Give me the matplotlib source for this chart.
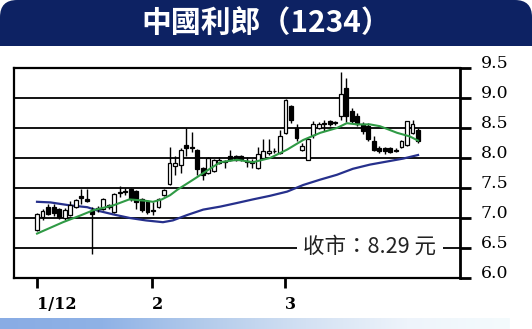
import numpy as np
import matplotlib
matplotlib.use("Agg")
import matplotlib.pyplot as plt
from matplotlib.patches import FancyBboxPatch
from matplotlib.colors import LinearSegmentedColormap

# ---------------- data ----------------
title = "中國利郎（1234）"
close_label = "收市：8.29 元"

open_ = [6.80, 7.02, 7.18, 7.18, 7.15, 7.00, 7.05, 7.19, 7.36, 7.31,
         7.11, 7.15, 7.15, 7.21, 7.10, 7.42, 7.45, 7.48, 7.45, 7.32,
         7.29, 7.13, 7.18, 7.39, 7.56, 7.86, 7.89, 8.21, 8.18, 8.13,
         7.83, 7.75, 7.78, 7.92, 7.95, 8.03, 8.03, 8.03, 7.95, 7.92,
         7.83, 8.00, 8.08, 8.12, 8.08, 8.42, 8.86, 8.50, 8.14, 7.97,
         8.39, 8.50, 8.56, 8.61, 8.58, 8.70, 9.17, 8.78, 8.70, 8.56,
         8.53, 8.28, 8.17, 8.17, 8.17, 8.14, 8.19, 8.22, 8.42, 8.47]
close = [7.07, 7.12, 7.07, 7.08, 7.02, 7.14, 7.21, 7.30, 7.34, 7.29,
         7.07, 7.16, 7.32, 7.18, 7.40, 7.43, 7.43, 7.32, 7.26, 7.13,
         7.10, 7.12, 7.32, 7.47, 7.92, 7.92, 8.14, 8.17, 8.17, 7.81,
         7.72, 8.00, 7.97, 7.97, 7.94, 7.97, 7.97, 7.98, 7.93, 7.93,
         8.06, 8.11, 8.11, 8.11, 8.36, 8.97, 8.64, 8.33, 8.20, 8.31,
         8.56, 8.56, 8.58, 8.56, 8.60, 9.07, 8.70, 8.61, 8.56, 8.45,
         8.31, 8.14, 8.11, 8.11, 8.10, 8.12, 8.28, 8.61, 8.56, 8.29]
high = [7.09, 7.15, 7.23, 7.23, 7.17, 7.16, 7.29, 7.32, 7.48, 7.48,
        7.18, 7.20, 7.34, 7.24, 7.42, 7.54, 7.50, 7.50, 7.46, 7.34,
        7.30, 7.26, 7.34, 7.49, 8.19, 8.03, 8.16, 8.50, 8.44, 8.15,
        7.85, 8.02, 7.99, 8.02, 7.97, 8.14, 8.05, 8.05, 8.02, 7.98,
        8.19, 8.31, 8.31, 8.16, 8.47, 8.99, 8.89, 8.56, 8.25, 8.33,
        8.61, 8.60, 8.63, 8.63, 8.62, 9.43, 9.33, 8.83, 8.75, 8.60,
        8.58, 8.36, 8.20, 8.19, 8.19, 8.16, 8.30, 8.62, 8.64, 8.50]
low = [6.78, 6.96, 7.05, 7.04, 6.99, 6.97, 7.03, 7.16, 7.23, 7.26,
       6.40, 7.10, 7.13, 7.15, 7.08, 7.35, 7.38, 7.28, 7.15, 7.10,
       7.06, 7.05, 7.16, 7.36, 7.55, 7.72, 7.75, 8.03, 8.10, 7.72,
       7.64, 7.73, 7.76, 7.90, 7.83, 7.95, 7.95, 7.95, 7.85, 7.84,
       7.81, 7.98, 8.05, 8.08, 8.06, 8.40, 8.58, 8.28, 8.12, 7.96,
       8.33, 8.48, 8.45, 8.54, 8.55, 8.64, 8.60, 8.58, 8.53, 8.40,
       8.29, 8.11, 8.09, 8.06, 8.08, 8.10, 8.17, 8.20, 8.40, 8.25]

ma_short_x = [0, 4.7, 7.8, 10.2, 13.8, 16.7, 19.4, 21.0, 22.6, 24.1, 25.4,
              28.3, 31.3, 33.2, 36.2, 39.1, 42.2, 45.3, 48.2, 51.3, 54.3,
              56.1, 58.0, 60.3, 62.1, 65.2, 67.5, 69.0]
ma_short_y = [6.74, 6.93, 7.04, 7.13, 7.21, 7.31, 7.29, 7.27, 7.31, 7.38, 7.47,
              7.64, 7.82, 7.93, 7.97, 7.93, 8.00, 8.14, 8.30, 8.42, 8.50,
              8.58, 8.56, 8.56, 8.53, 8.42, 8.36, 8.29]

ma_long_x = [0, 2.4, 6.0, 9.1, 11.1, 13.8, 16.8, 19.7, 22.8, 24.6, 27.2,
             30.1, 33.2, 36.2, 39.1, 42.2, 45.3, 48.2, 51.3, 54.3, 57.2,
             60.3, 63.3, 66.3, 69.0]
ma_long_y = [7.27, 7.26, 7.21, 7.18, 7.12, 7.06, 7.00, 6.96, 6.93, 6.96, 7.05,
             7.14, 7.19, 7.25, 7.31, 7.37, 7.44, 7.55, 7.64, 7.72, 7.82,
             7.89, 7.94, 7.99, 8.05]

y_ticks = [6.0, 6.5, 7.0, 7.5, 8.0, 8.5, 9.0, 9.5]
y_grid = [6.5, 7.0, 7.5, 8.0, 8.5, 9.0]
x_tick_pos = [0, 20.8, 44.9]
x_tick_labels = ["1/12", "2", "3"]

# ---------------- figure ----------------
W, H = 532, 329
fig = plt.figure(figsize=(W / 100, H / 100), dpi=100)
fig.patch.set_facecolor("white")

NAVY = "#0d2263"

# title bar
tax = fig.add_axes([0, 1 - 46 / H, 1, 46 / H])
tax.set_xlim(0, W)
tax.set_ylim(0, 46)
tax.axis("off")
bar = FancyBboxPatch((0, -30), W, 76, boxstyle="round,pad=0,rounding_size=17",
                     facecolor=NAVY, edgecolor="none")
tax.add_patch(bar)
tax.text(W / 2, 22, title, color="white", fontsize=21.5, fontweight="bold",
         ha="center", va="center",
         family=["Noto Sans CJK TC", "DejaVu Sans"])

# main axes
L, R, T, B = 14, 460, 68, 278
ax = fig.add_axes([L / W, 1 - B / H, (R - L) / W, (B - T) / H])
n = len(open_)
idx = np.arange(n)
ax.set_xlim(-4.17, 76.6)
ax.set_ylim(6.0, 9.5)

for g in y_grid:
    ax.axhline(g, color="black", lw=1.3, zorder=1)

ax.plot(ma_long_x, ma_long_y, color="#26308c", lw=1.6, zorder=3)

o = np.array(open_); c = np.array(close)
ax.vlines(idx, low, high, color="black", lw=1.0, zorder=4)
bottoms = np.minimum(o, c)
heights = np.maximum(np.abs(c - o), 0.012)
up = c >= o
ax.bar(idx[up], heights[up], bottom=bottoms[up], width=0.7,
       facecolor="white", edgecolor="black", linewidth=0.9, zorder=5)
ax.bar(idx[~up], heights[~up], bottom=bottoms[~up], width=0.7,
       facecolor="black", edgecolor="black", linewidth=0.9, zorder=5)

ax.plot(ma_short_x, ma_short_y, color="#2f9a45", lw=1.5, zorder=6)

for s in ["left", "top", "bottom"]:
    ax.spines[s].set_linewidth(1.6)
ax.spines["right"].set_linewidth(2.0)

ax.yaxis.tick_right()
ax.set_yticks(y_ticks)
ax.set_yticklabels([f"{v:.1f}" for v in y_ticks])
ax.tick_params(axis="y", direction="out", length=8, width=2, pad=7,
               labelsize=12.5, left=False)
for lab in ax.get_yticklabels():
    lab.set_family("DejaVu Serif")
    lab.set_verticalalignment("baseline")

ax.set_xticks(x_tick_pos)
ax.set_xticklabels(x_tick_labels)
ax.tick_params(axis="x", direction="out", length=7, width=2, pad=6,
               labelsize=11.5)
for lab in ax.get_xticklabels():
    lab.set_family("DejaVu Serif")
    lab.set_fontweight("bold")
    lab.set_horizontalalignment("left")

ax.text(0.798, 0.148, close_label, transform=ax.transAxes, fontsize=15.5,
        color="#222222", ha="center", va="center", zorder=10,
        family=["Noto Sans CJK TC", "DejaVu Sans"],
        bbox=dict(facecolor="white", edgecolor="none", pad=5))

# bottom gradient strip
gax = fig.add_axes([0, 0, 510 / W, 11 / H])
cmap = LinearSegmentedColormap.from_list(
    "strip", ["#89ace4", "#8fb2e6", "#b3cbeb", "#d3e1f3", "#eef4fb", "#f4fbfd"])
gax.imshow(np.linspace(0, 1, 256)[None, :], aspect="auto", cmap=cmap,
           extent=[0, 1, 0, 1])
gax.axis("off")

fig.savefig("out.png", dpi=100, facecolor="white")
